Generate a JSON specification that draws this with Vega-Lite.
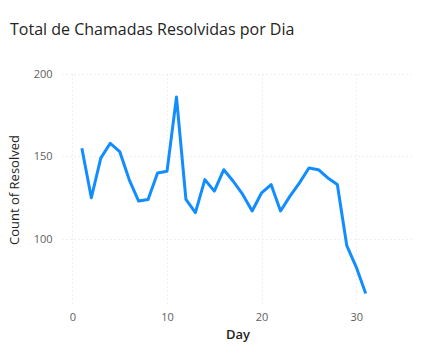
{
  "$schema": "https://vega.github.io/schema/vega-lite/v6.json",
  "width": 351,
  "height": 231,
  "autosize": "none",
  "padding": {"left": 62, "top": 74, "right": 10, "bottom": 59},
  "background": "white",
  "title": {
    "text": "Total de Chamadas Resolvidas por Dia",
    "anchor": "start",
    "frame": "group",
    "dx": -52,
    "offset": 30,
    "fontSize": 16,
    "font": "Open Sans",
    "fontWeight": "normal",
    "color": "#252423"
  },
  "config": {
    "view": {"stroke": null},
    "font": "Open Sans",
    "axis": {
      "domain": false,
      "ticks": false,
      "gridColor": "#E1E1E1",
      "gridDash": [1, 3],
      "gridWidth": 1,
      "labelColor": "#605E5C",
      "labelFontSize": 11,
      "titleColor": "#252423",
      "titleFontSize": 13,
      "titleFontWeight": "normal"
    }
  },
  "data": {
    "values": [
      {"Day": 1, "Resolved": 155},
      {"Day": 2, "Resolved": 125},
      {"Day": 3, "Resolved": 149},
      {"Day": 4, "Resolved": 158},
      {"Day": 5, "Resolved": 153},
      {"Day": 6, "Resolved": 136},
      {"Day": 7, "Resolved": 123},
      {"Day": 8, "Resolved": 124},
      {"Day": 9, "Resolved": 140},
      {"Day": 10, "Resolved": 141},
      {"Day": 11, "Resolved": 186},
      {"Day": 12, "Resolved": 124},
      {"Day": 13, "Resolved": 116},
      {"Day": 14, "Resolved": 136},
      {"Day": 15, "Resolved": 129},
      {"Day": 16, "Resolved": 142},
      {"Day": 17, "Resolved": 135},
      {"Day": 18, "Resolved": 127},
      {"Day": 19, "Resolved": 117},
      {"Day": 20, "Resolved": 128},
      {"Day": 21, "Resolved": 133},
      {"Day": 22, "Resolved": 117},
      {"Day": 23, "Resolved": 126},
      {"Day": 24, "Resolved": 134},
      {"Day": 25, "Resolved": 143},
      {"Day": 26, "Resolved": 142},
      {"Day": 27, "Resolved": 137},
      {"Day": 28, "Resolved": 133},
      {"Day": 29, "Resolved": 96},
      {"Day": 30, "Resolved": 83},
      {"Day": 31, "Resolved": 67}
    ]
  },
  "mark": {"type": "line", "color": "#118DFF", "strokeWidth": 3, "strokeJoin": "round"},
  "encoding": {
    "x": {
      "field": "Day",
      "type": "quantitative",
      "scale": {"domain": [-1.1, 36], "nice": false, "zero": false},
      "axis": {"values": [0, 10, 20, 30], "labelPadding": 6, "titlePadding": 6, "title": "Day", "titleFontWeight": 600}
    },
    "y": {
      "field": "Resolved",
      "type": "quantitative",
      "scale": {"domain": [60, 200], "nice": false, "zero": false},
      "axis": {"values": [100, 150, 200], "labelPadding": 10, "titlePadding": 12, "title": "Count of Resolved"}
    }
  }
}
